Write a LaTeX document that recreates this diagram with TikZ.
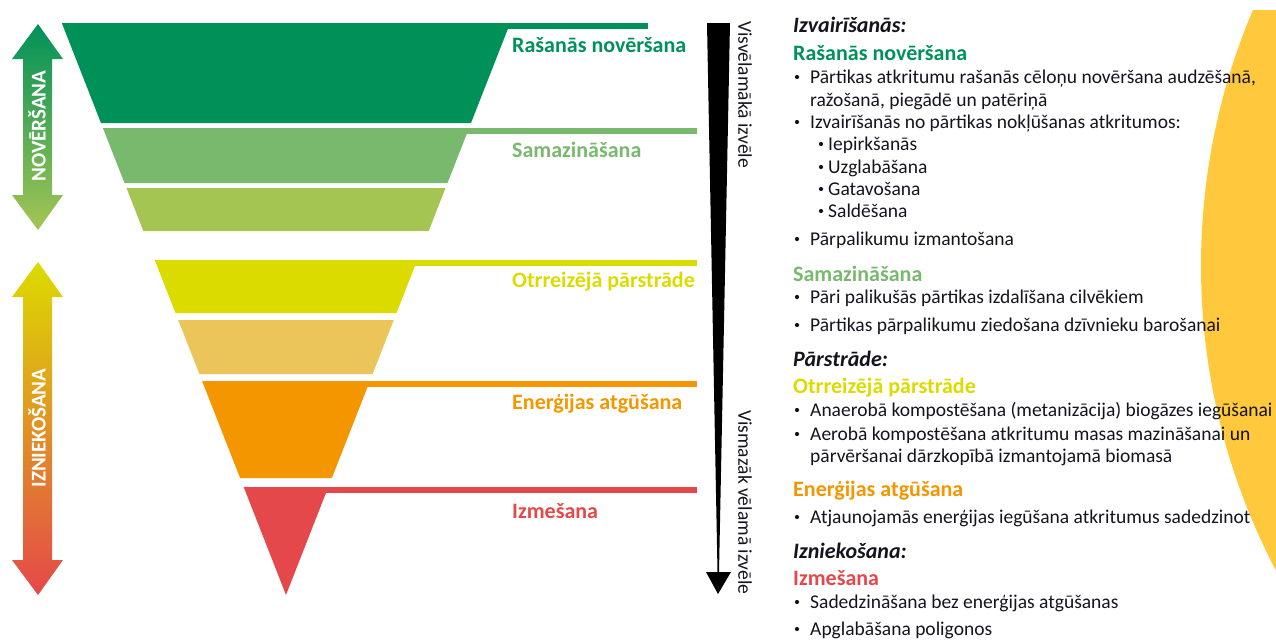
\documentclass[tikz,border=0pt]{standalone}
\usepackage{fontspec}
\setmainfont{Carlito}
\definecolor{dkgreen}{RGB}{0,145,89}
\definecolor{mdgreen}{RGB}{120,185,110}
\definecolor{ltgreen}{RGB}{165,197,83}
\definecolor{lemon}{RGB}{220,219,0}
\definecolor{tan}{RGB}{235,197,90}
\definecolor{orng}{RGB}{243,150,0}
\definecolor{rred}{RGB}{229,72,74}
\definecolor{midorng}{RGB}{230,165,60}
\definecolor{sun}{RGB}{255,200,61}
\definecolor{txt}{RGB}{20,20,30}
\tikzset{
  lbl/.style={anchor=base west, inner sep=0pt, font=\bfseries\fontsize{22}{24}\selectfont},
  body/.style={anchor=base west, inner sep=0pt, text=txt, font=\fontsize{19.5}{22}\selectfont},
  dot/.style={circle, fill=txt, inner sep=0pt, minimum size=4.2pt},
  sect/.style={anchor=base west, inner sep=0pt, text=txt, font=\bfseries\itshape\fontsize{22}{24}\selectfont},
  side/.style={inner sep=0pt, text=white, font=\bfseries\fontsize{21}{21}\selectfont, rotate=90},
  vlab/.style={inner sep=0pt, anchor=west, rotate=-90, text=txt, font=\fontsize{19.5}{22}\selectfont}
}
\begin{document}
\begin{tikzpicture}[x=1pt,y=-1pt]
\useasboundingbox (0,0) rectangle (1276,640);
% yellow disc on the right
\begin{scope}
  \clip (0,10) rectangle (1276,640);
  \fill[sun] (1856,266) circle[radius=655];
\end{scope}

% funnel bands
\fill[dkgreen] (61.8,23) -- (510.2,23) -- (471.0,123) -- (101.0,123) -- cycle;
\fill[dkgreen] (300,23) rectangle (648,29);
\fill[mdgreen] (102.9,128) -- (469.1,128) -- (447.5,183) -- (124.5,183) -- cycle;
\fill[mdgreen] (300,128) rectangle (697,134);
\fill[ltgreen] (126.5,188) -- (445.5,188) -- (428.7,231) -- (143.3,231) -- cycle;
\fill[lemon] (154.7,260) -- (417.3,260) -- (396.5,313) -- (175.5,313) -- cycle;
\fill[lemon] (300,260) rectangle (697,266);
\fill[tan] (178.2,320) -- (393.8,320) -- (372.6,374) -- (199.4,374) -- cycle;
\fill[orng] (202.1,381) -- (369.9,381) -- (331.9,478) -- (240.1,478) -- cycle;
\fill[orng] (300,381) rectangle (697,387);
\fill[rred] (243.7,487) -- (328.3,487) -- (286,595) -- cycle;
\fill[rred] (286,487) rectangle (697,493);

% funnel labels
\node[lbl, text=dkgreen] (l1) at (512,52) {Rašanās novēršana};
\node[lbl, text=mdgreen] (l2) at (512,157) {Samazināšana};
\node[lbl, text=lemon] (l3) at (512,287) {Otrreizējā pārstrāde};
\node[lbl, text=orng] (l4) at (512,409) {Enerģijas atgūšana};
\node[lbl, text=rred] (l5) at (512,518) {Izmešana};

% black tapered arrow
\fill[black] (707,23) -- (730,23) -- (719,572) -- (717.5,572) -- cycle;
\fill[black] (706,572) -- (731,572) -- (718,594) -- cycle;
\node[vlab] (v1) at (745,21) {Visvēlamākā izvēle};
\node[vlab] (v2) at (745,410) {Vismazāk vēlamā izvēle};

% left double arrows
\shade[top color=dkgreen, bottom color=ltgreen]
  (38,24) -- (63,59) -- (52,59) -- (52,195) -- (63,195) -- (38,230) -- (12,195) -- (23,195) -- (23,59) -- (12,59) -- cycle;
\shade[top color=lemon, middle color=midorng, bottom color=rred]
  (38,262) -- (63,297) -- (52,297) -- (52,560) -- (63,560) -- (38,595) -- (12,560) -- (23,560) -- (23,297) -- (12,297) -- cycle;
\node[side] (s1) at (37,126) {NOVĒRŠANA};
\node[side] (s2) at (37,428) {IZNIEKOŠANA};

% right column
\node[sect] (h1) at (793,32) {Izvairīšanās:};
\node[lbl, text=dkgreen] (h1a) at (793,60) {Rašanās novēršana};
\node[dot] (b1) at (797,77) {};
\node[body] (t1) at (810,83) {Pārtikas atkritumu rašanās cēloņu novēršana audzēšanā,};
\node[body] (t1b) at (810,106) {ražošanā, piegādē un patēriņā};
\node[dot] (b2) at (797,122) {};
\node[body] (t2) at (810,128) {Izvairīšanās no pārtikas nokļūšanas atkritumos:};
\node[dot] (b21) at (821,144) {};
\node[body] (t21) at (828,150) {Iepirkšanās};
\node[dot] (b22) at (821,167) {};
\node[body] (t22) at (828,173) {Uzglabāšana};
\node[dot] (b23) at (821,189) {};
\node[body] (t23) at (828,195) {Gatavošana};
\node[dot] (b24) at (821,211) {};
\node[body] (t24) at (828,217) {Saldēšana};
\node[dot] (b3) at (797,239) {};
\node[body] (t3) at (810,245) {Pārpalikumu izmantošana};

\node[lbl, text=mdgreen] (h1b) at (793,281) {Samazināšana};
\node[dot] (b4) at (797,297) {};
\node[body] (t4) at (810,303) {Pāri palikušās pārtikas izdalīšana cilvēkiem};
\node[dot] (b5) at (797,325) {};
\node[body] (t5) at (810,331) {Pārtikas pārpalikumu ziedošana dzīvnieku barošanai};

\node[sect] (h2) at (793,366) {Pārstrāde:};
\node[lbl, text=lemon] (h2a) at (793,393) {Otrreizējā pārstrāde};
\node[dot] (b6) at (797,410) {};
\node[body] (t6) at (810,416) {Anaerobā kompostēšana (metanizācija) biogāzes iegūšanai};
\node[dot] (b7) at (797,434) {};
\node[body] (t7) at (810,440) {Aerobā kompostēšana atkritumu masas mazināšanai un};
\node[body] (t7b) at (810,462) {pārvēršanai dārzkopībā izmantojamā biomasā};
\node[lbl, text=orng] (h2b) at (793,496) {Enerģijas atgūšana};
\node[dot] (b8) at (797,517) {};
\node[body] (t8) at (810,523) {Atjaunojamās enerģijas iegūšana atkritumus sadedzinot};

\node[sect] (h3) at (793,558) {Izniekošana:};
\node[lbl, text=rred] (h3a) at (793,585) {Izmešana};
\node[dot] (b9) at (797,602) {};
\node[body] (t9) at (810,608) {Sadedzināšana bez enerģijas atgūšanas};
\node[dot] (b10) at (797,629) {};
\node[body] (t10) at (810,635) {Apglabāšana poligonos};
\end{tikzpicture}
\end{document}
